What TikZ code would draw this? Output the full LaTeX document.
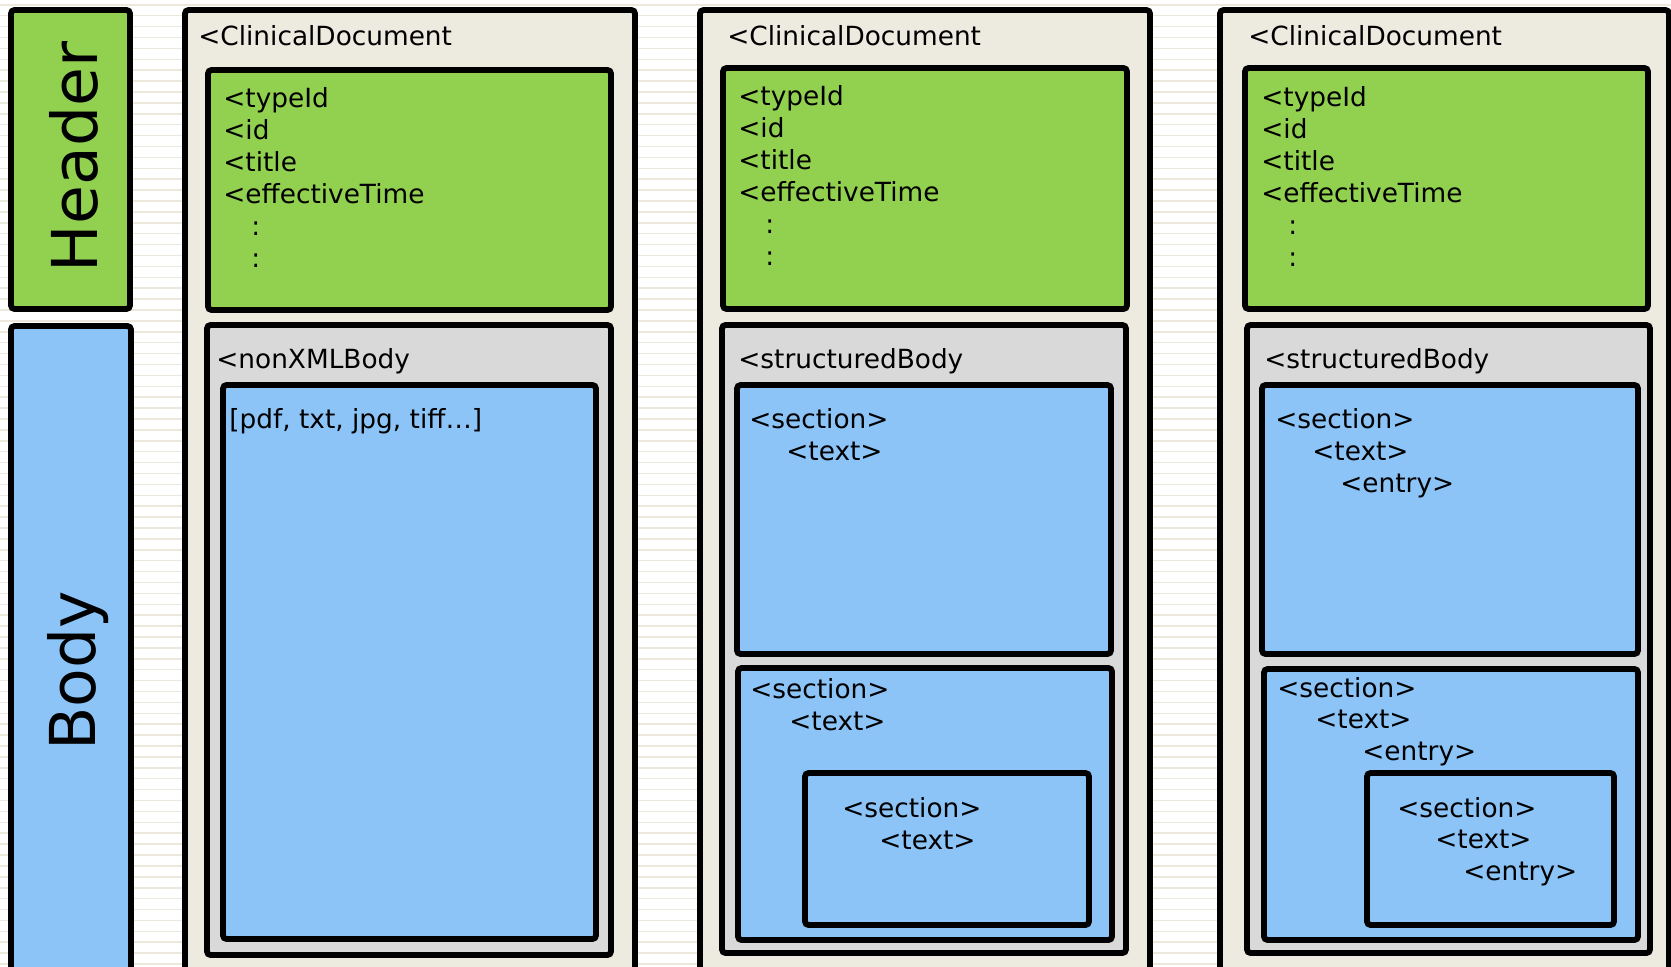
\documentclass[tikz,border=0pt]{standalone}
\usepackage{fontspec}
\setmainfont{DejaVu Sans}
\definecolor{docbeige}{HTML}{EDEAE0}
\definecolor{hdrgreen}{HTML}{92D050}
\definecolor{wrapgray}{HTML}{D9D9D9}
\definecolor{bodyblue}{HTML}{8CC4F8}
\definecolor{stripecol}{HTML}{ECE8DC}
\tikzset{
  box/.style={draw=black, line width=3.3pt, rounded corners=2pt},
  hdrbox/.style={box, fill=hdrgreen},
  bodybox/.style={box, fill=bodyblue},
  docbox/.style={box, fill=docbeige},
  wrapbox/.style={box, fill=wrapgray},
  stripe/.style={stripecol, line width=0.9pt},
  tag/.style={anchor=base west, inner sep=0pt, font=\fontsize{15}{18}\selectfont},
  side/.style={rotate=90, anchor=base, inner sep=0pt, font=\fontsize{36}{40}\selectfont}
}
\begin{document}
\begin{tikzpicture}[x=0.02cm,y=-0.02cm]
\clip (0,0) rectangle (1671,967);
\fill[white] (0,0) rectangle (1671,967);
% striped background
\foreach \yy in {4.8,15.7,...,967}
  \draw[stripe] (0,\yy) -- (1671,\yy);

% side labels
\draw[hdrbox] (11,10) rectangle (130,309);
\node[side] (hdr) at (97,157) {Header};
\draw[bodybox] (11,326) rectangle (131,1000);
\node[side] (bdy) at (95,671) {Body};

% column 1: unstructured body
\draw[docbox] (185,10) rectangle (635,975);
\node[tag] (docA) at (198,45) {<ClinicalDocument};
\draw[hdrbox] (208,70) rectangle (611,310);
\foreach \t [count=\i] in {<typeId,<id,<title,<effectiveTime}
  \node[tag] (hdrA\i) at (223,{107+32*(\i-1)}) {\t};
\node[tag] (dotA1) at (251,235) {:};
\node[tag] (dotA2) at (251,267) {:};
\draw[wrapbox] (207,325) rectangle (611,955);
\node[tag] (wrapA) at (216,368) {<nonXMLBody};
\draw[bodybox] (223,385) rectangle (596,939);
\node[tag] (fileA) at (229,428) {[pdf, txt, jpg, tiff…]};

% column 2: structured body, text only
\draw[docbox] (700,10) rectangle (1150,975);
\node[tag] (docB) at (727,45) {<ClinicalDocument};
\draw[hdrbox] (723,68) rectangle (1127,309);
\foreach \t [count=\i] in {<typeId,<id,<title,<effectiveTime}
  \node[tag] (hdrB\i) at (738,{105+32*(\i-1)}) {\t};
\node[tag] (dotB1) at (765,233) {:};
\node[tag] (dotB2) at (765,265) {:};
\draw[wrapbox] (722,325) rectangle (1126,953);
\node[tag] (wrapB) at (738,368) {<structuredBody};
\draw[bodybox] (737,385) rectangle (1111,654);
\node[tag] (secB1) at (749,428) {<section>};
\node[tag] (txtB1) at (786,460) {<text>};
\draw[bodybox] (738,668) rectangle (1112,940);
\node[tag] (secB2) at (750,698) {<section>};
\node[tag] (txtB2) at (789,730) {<text>};
\draw[bodybox] (805,773) rectangle (1089,925);
\node[tag] (secB3) at (842,817) {<section>};
\node[tag] (txtB3) at (879,849) {<text>};

% column 3: structured body with entries
\draw[docbox] (1220,10) rectangle (1669,975);
\node[tag] (docC) at (1248,45) {<ClinicalDocument};
\draw[hdrbox] (1245,68) rectangle (1648,309);
\foreach \t [count=\i] in {<typeId,<id,<title,<effectiveTime}
  \node[tag] (hdrC\i) at (1261,{106+32*(\i-1)}) {\t};
\node[tag] (dotC1) at (1288,234) {:};
\node[tag] (dotC2) at (1288,266) {:};
\draw[wrapbox] (1247,325) rectangle (1650,953);
\node[tag] (wrapC) at (1264,368) {<structuredBody};
\draw[bodybox] (1262,385) rectangle (1638,654);
\node[tag] (secC1) at (1275,428) {<section>};
\node[tag] (txtC1) at (1312,460) {<text>};
\node[tag] (entC1) at (1340,492) {<entry>};
\draw[bodybox] (1264,669) rectangle (1638,940);
\node[tag] (secC2) at (1277,697) {<section>};
\node[tag] (txtC2) at (1315,728) {<text>};
\node[tag] (entC2) at (1362,760) {<entry>};
\draw[bodybox] (1367,773) rectangle (1614,925);
\node[tag] (secC3) at (1397,817) {<section>};
\node[tag] (txtC3) at (1435,848) {<text>};
\node[tag] (entC3) at (1463,880) {<entry>};
\end{tikzpicture}
\end{document}
